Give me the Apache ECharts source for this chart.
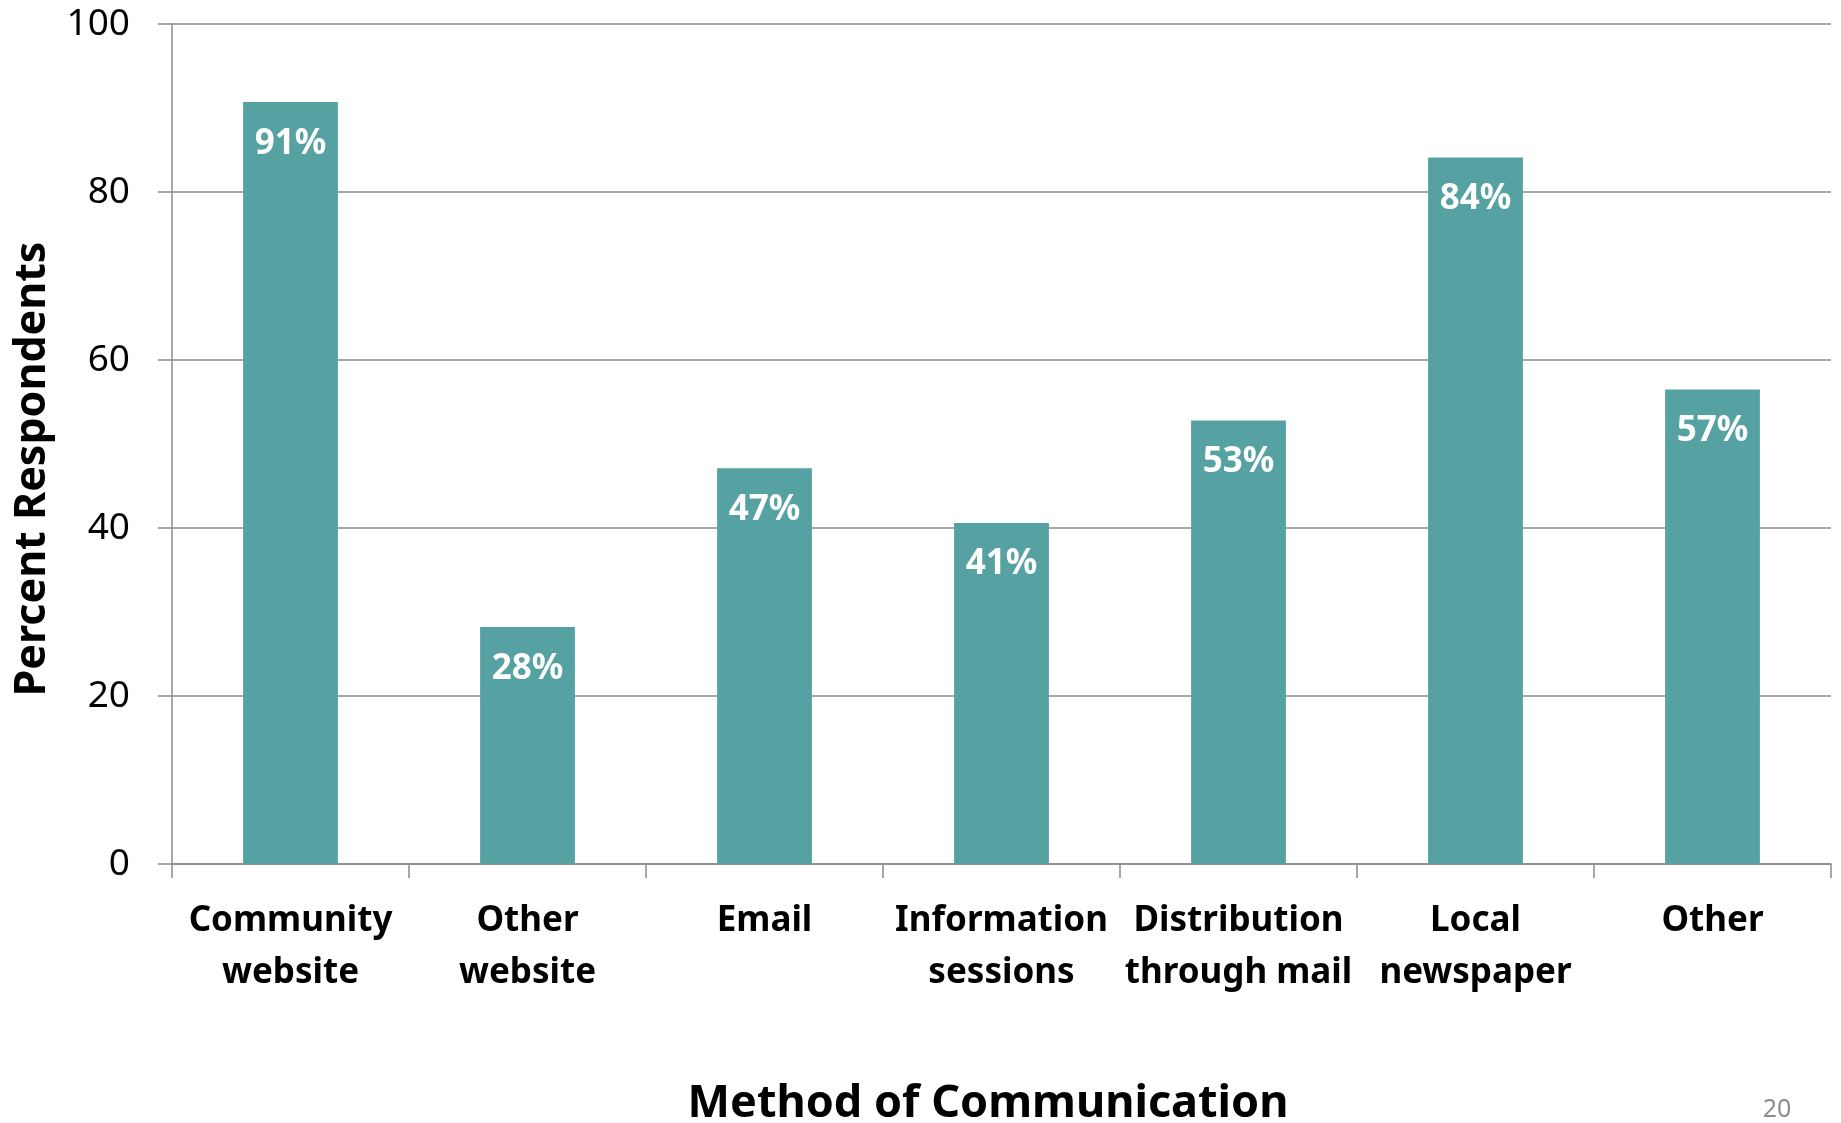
<!DOCTYPE html>
<html>
<head>
<meta charset="utf-8">
<script src="https://cdn.jsdelivr.net/npm/echarts@6/dist/echarts.min.js"></script>
<style>
html,body{margin:0;padding:0;background:#fff;}
#chart{width:1841px;height:1123px;}
</style>
</head>
<body>
<div id="chart"></div>
<script>
var categories = ['Community\nwebsite', 'Other\nwebsite', 'Email', 'Information\nsessions', 'Distribution\nthrough mail', 'Local\nnewspaper', 'Other'];
var values = [90.7, 28.2, 47.1, 40.6, 52.8, 84.1, 56.5];
var yTicks = [0, 20, 40, 60, 80, 100];
var yAxisTitle = 'Percent Respondents';
var xAxisTitle = 'Method of Communication';
var pageNumber = '20';

var FONT = '"Noto Sans", "Open Sans", sans-serif';
var chart = echarts.init(document.getElementById('chart'));
chart.setOption({
  backgroundColor: '#ffffff',
  animation: false,
  grid: { left: 172, right: 10, top: 24, bottom: 259, containLabel: false },
  xAxis: {
    type: 'category',
    data: categories,
    axisLine: { show: true, lineStyle: { color: '#8c8c8c', width: 1.5 } },
    axisTick: { show: true, length: 14, alignWithLabel: false, lineStyle: { color: '#8c8c8c', width: 1.5 } },
    axisLabel: {
      interval: 0, margin: 31, color: '#000', fontFamily: FONT, fontWeight: 'bold',
      fontSize: 35, lineHeight: 52
    }
  },
  yAxis: {
    type: 'value',
    min: yTicks[0], max: yTicks[yTicks.length - 1], interval: 20,
    axisLine: { show: true, lineStyle: { color: '#8c8c8c', width: 1.5 } },
    axisTick: { show: true, length: 14, inside: false, lineStyle: { color: '#8c8c8c', width: 1.5 } },
    splitLine: { show: true, lineStyle: { color: '#8c8c8c', width: 1.5 } },
    axisLabel: { margin: 42, color: '#000', fontFamily: FONT, fontSize: 37 }
  },
  series: [{
    type: 'bar',
    data: values,
    barWidth: '40%',
    itemStyle: { color: '#56A1A2' },
    label: {
      show: true, position: 'insideTop', distance: 24,
      color: '#fff', fontFamily: FONT, fontWeight: 'bold', fontSize: 35,
      formatter: function (p) { return Math.round(p.value) + '%'; }
    }
  }],
  graphic: [
    {
      type: 'text', x: 33, y: 469, rotation: Math.PI / 2,
      style: { text: yAxisTitle, font: 'bold 43px ' + FONT, fill: '#000', textAlign: 'center', textVerticalAlign: 'middle' }
    },
    {
      type: 'text', x: 988, y: 1104,
      style: { text: xAxisTitle, font: 'bold 45px ' + FONT, fill: '#000', textAlign: 'center', textVerticalAlign: 'middle' }
    },
    {
      type: 'text', x: 1777, y: 1110,
      style: { text: pageNumber, font: '25px ' + FONT, fill: '#8c8c8c', textAlign: 'center', textVerticalAlign: 'middle' }
    }
  ]
});
</script>
</body>
</html>
